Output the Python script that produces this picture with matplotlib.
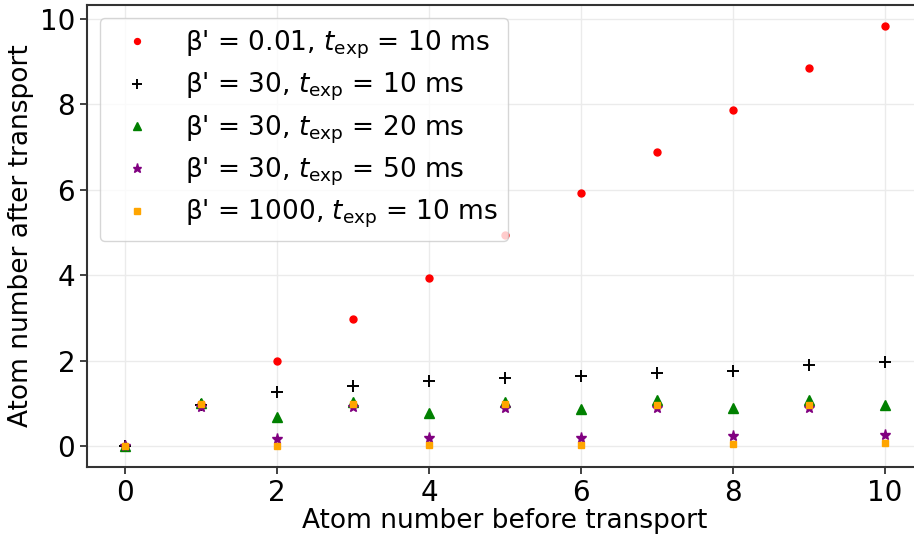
import matplotlib
matplotlib.use("Agg")
import matplotlib.pyplot as plt

x = [0, 1, 2, 3, 4, 5, 6, 7, 8, 9, 10]
red_vals = [0.0, 0.98, 1.99, 2.97, 3.93, 4.94, 5.92, 6.88, 7.87, 8.85, 9.83]
black_vals = [0.0, 0.97, 1.26, 1.40, 1.52, 1.59, 1.64, 1.71, 1.76, 1.90, 1.97]
green_vals = [0.0, 1.00, 0.67, 1.02, 0.77, 1.03, 0.86, 1.08, 0.88, 1.08, 0.96]
purple_vals = [0.0, 0.92, 0.16, 0.91, 0.19, 0.90, 0.20, 0.89, 0.23, 0.90, 0.26]
orange_vals = [0.0, 0.98, 0.01, 0.99, 0.02, 0.98, 0.02, 0.97, 0.05, 0.95, 0.08]

labels = [
    r"β' = 0.01, $t_{\rm exp}$ = 10 ms",
    r"β' = 30, $t_{\rm exp}$ = 10 ms",
    r"β' = 30, $t_{\rm exp}$ = 20 ms",
    r"β' = 30, $t_{\rm exp}$ = 50 ms",
    r"β' = 1000, $t_{\rm exp}$ = 10 ms",
]

plt.rcParams['font.size'] = 20
plt.rcParams['mathtext.default'] = 'it'

fig = plt.figure(figsize=(9.14, 5.41), dpi=100)
ax = fig.add_axes([87/914, (541-467)/541, 836/914, 462/541])

ax.plot(x, red_vals, ls='', marker='o', ms=5, color='red', label=labels[0])
ax.plot(x, black_vals, ls='', marker='+', ms=8, mew=1.4, color='black', label=labels[1])
ax.plot(x, green_vals, ls='', marker='^', ms=6.5, color='green', label=labels[2])
ax.plot(x, purple_vals, ls='', marker='*', ms=8, color='purple', label=labels[3])
ax.plot(x, orange_vals, ls='', marker='s', ms=5, color='orange', label=labels[4])

ax.set_xlim(-0.5, 10.5)
ax.set_ylim(-0.49, 10.32)
ax.set_xticks([0, 2, 4, 6, 8, 10])
ax.set_yticks([0, 2, 4, 6, 8, 10])
ax.grid(True, color='#ebebeb', lw=1)
ax.set_axisbelow(True)
for s in ax.spines.values():
    s.set_color('#333333')
    s.set_linewidth(1.5)
ax.tick_params(colors='#333333', labelcolor='black', width=1.3, length=5)

ax.set_xlabel('Atom number before transport', fontsize=19, labelpad=1)
ax.set_ylabel('Atom number after transport', fontsize=19, labelpad=4)

leg = ax.legend(loc='upper left', numpoints=1, markerscale=0.85, fontsize=19,
                labelspacing=0.38)
leg.get_frame().set_edgecolor('#cccccc')

fig.savefig('out.png', dpi=100)
